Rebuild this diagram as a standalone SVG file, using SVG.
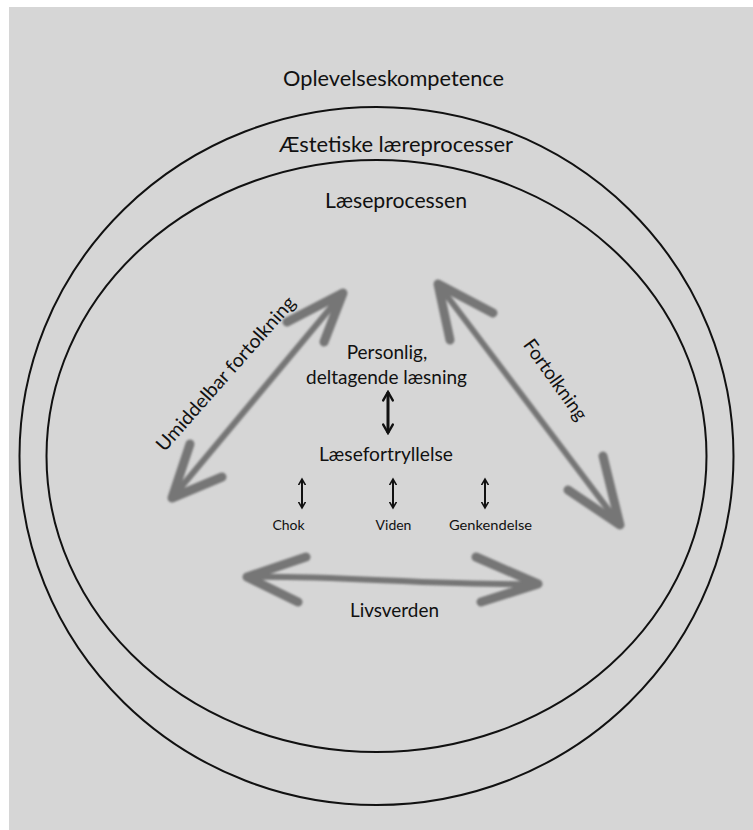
<svg xmlns="http://www.w3.org/2000/svg" width="753" height="830" viewBox="0 0 753 830">
<defs>
<style>
.t{font-family:Lato,"Liberation Sans",sans-serif;fill:#111;text-anchor:middle}
.big{font-size:21.5px}
.mid{font-size:19px}
.sm{font-size:14px}
.ring{fill:none;stroke:#111;stroke-width:2}
.ga{fill:none;stroke:#767676;stroke-width:6;stroke-linecap:round;stroke-linejoin:round}
.gb{fill:none;stroke:#767676;stroke-width:9;stroke-linecap:round;stroke-linejoin:round}
.ba{stroke:#111;fill:none}
</style>
<filter id="blur" x="-10%" y="-10%" width="120%" height="120%"><feGaussianBlur stdDeviation="1.3"/></filter>
<marker id="ah" viewBox="0 0 10 10" refX="8" refY="5" markerWidth="4" markerHeight="4" orient="auto-start-reverse" markerUnits="strokeWidth">
<path d="M1,1 L8,5 L1,9" fill="none" stroke="#111" stroke-width="2" stroke-linecap="round"/>
</marker>
</defs>
<rect x="0" y="0" width="753" height="830" fill="#ffffff"/>
<rect x="9" y="7" width="744" height="823" fill="#d6d6d6"/>

<g id="ring-outer"><ellipse class="ring" cx="376.5" cy="456" rx="357" ry="349"/></g>
<g id="ring-inner"><ellipse class="ring" cx="376.5" cy="456" rx="330" ry="296"/></g>

<g id="label-oplevelseskompetence"><text class="t big" x="393.5" y="86" textLength="221" lengthAdjust="spacingAndGlyphs">Oplevelseskompetence</text></g>
<g id="label-aestetiske"><text class="t big" x="396" y="152" textLength="234" lengthAdjust="spacingAndGlyphs">Æstetiske læreprocesser</text></g>
<g id="label-laeseprocessen"><text class="t big" x="396" y="208" textLength="142" lengthAdjust="spacingAndGlyphs">Læseprocessen</text></g>

<g id="node-personlig">
<text class="t mid" x="387" y="359">Personlig,</text>
<text class="t mid" x="386.5" y="384" textLength="161" lengthAdjust="spacingAndGlyphs">deltagende læsning</text>
</g>
<g id="node-laesefortryllelse"><text class="t mid" x="386" y="461" textLength="134" lengthAdjust="spacingAndGlyphs">Læsefortryllelse</text></g>
<g id="node-chok"><text class="t sm" x="288.5" y="530">Chok</text></g>
<g id="node-viden"><text class="t sm" x="393.5" y="530">Viden</text></g>
<g id="node-genkendelse"><text class="t sm" x="490.5" y="530" textLength="83" lengthAdjust="spacingAndGlyphs">Genkendelse</text></g>
<g id="node-livsverden"><text class="t mid" x="394.5" y="617" textLength="89" lengthAdjust="spacingAndGlyphs">Livsverden</text></g>
<g id="label-umiddelbar"><text class="t mid" transform="translate(226,374) rotate(-48.5)" x="0" y="6" textLength="199" lengthAdjust="spacingAndGlyphs">Umiddelbar fortolkning</text></g>
<g id="label-fortolkning"><text class="t mid" transform="translate(555,380) rotate(54.5)" x="0" y="6">Fortolkning</text></g>

<g id="connectors">
<g filter="url(#blur)">
<path class="ga" d="M343,293 L172,498"/>
<path class="gb" d="M287,322 L343,293 L324,342"/>
<path class="gb" d="M190,444 L172,498 L222,477"/>
<path class="ga" d="M438,284 L620,525"/>
<path class="gb" d="M450,340 L438,284 L493,313"/>
<path class="gb" d="M603,456 L620,525 L568,490"/>
<path class="ga" d="M247,577 C330,575 440,586 538,584"/>
<path class="gb" d="M306,557 L247,577 L298,602"/>
<path class="gb" d="M476,557 L538,584 L481,602"/>
</g>
<line class="ba" x1="388" y1="392" x2="388" y2="433" stroke-width="3" marker-start="url(#ah)" marker-end="url(#ah)"/>
<line class="ba" x1="302" y1="479" x2="302" y2="508" stroke-width="2" marker-start="url(#ah)" marker-end="url(#ah)"/>
<line class="ba" x1="393" y1="479" x2="393" y2="508" stroke-width="2" marker-start="url(#ah)" marker-end="url(#ah)"/>
<line class="ba" x1="485" y1="479" x2="485" y2="508" stroke-width="2" marker-start="url(#ah)" marker-end="url(#ah)"/>
</g>
</svg>
